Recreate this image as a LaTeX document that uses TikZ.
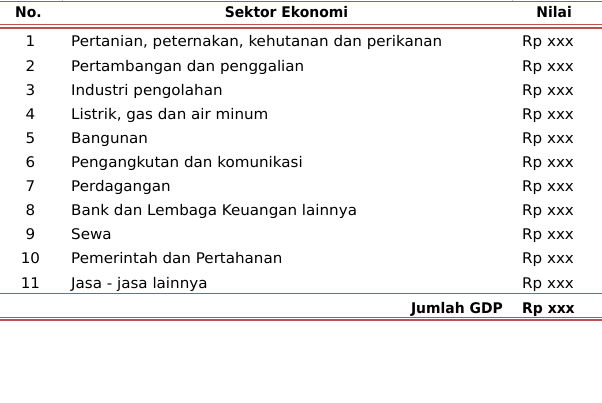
\documentclass[tikz,border=0pt]{standalone}
\usepackage{fontspec}
\setmainfont{DejaVu Sans}[UprightFeatures={FakeStretch=1.03}, BoldFeatures={FakeStretch=0.95}]
\usepackage{tikz}
\usetikzlibrary{positioning}

\definecolor{rulered}{RGB}{192,80,77}
\definecolor{gridgrey}{RGB}{200,200,200}
\newcommand{\cellfont}{\fontsize{14.67}{16}\selectfont}

\begin{document}
\begin{tikzpicture}[x=1pt, y=-1pt,
	cell/.style={font=\cellfont, inner sep=0pt, anchor=base},
	head/.style={cell, font=\cellfont\bfseries},
	thinrule/.style={rulered, line width=0.9pt},
	thickrule/.style={rulered, line width=1.8pt}]
		
		\useasboundingbox (0,0) rectangle (602,403);
		
		% Edges of the rules
		\coordinate (top L) at (0,1);      \coordinate (top R) at (602,1);
		\coordinate (headA L) at (0,24.5); \coordinate (headA R) at (602,24.5);
		\coordinate (headB L) at (0,28);   \coordinate (headB R) at (602,28);
		\coordinate (sum L) at (0,293.5);  \coordinate (sum R) at (602,293.5);
		\coordinate (botA L) at (0,317.3); \coordinate (botA R) at (602,317.3);
		\coordinate (botB L) at (0,320.2); \coordinate (botB R) at (602,320.2);
		
		% Stubs of the grid at the top
		\coordinate (gridA top) at (62,0);  \coordinate (gridA bot) at (62,2);
		\coordinate (gridB top) at (512,0); \coordinate (gridB bot) at (512,2);
		\draw[gridgrey, line width=0.8pt] (gridA top) -- (gridA bot);
		\draw[gridgrey, line width=0.8pt] (gridB top) -- (gridB bot);
		
		% Header
		\node[head, anchor=base] (hno) at (28.5,17.3) {No.};
		\node[head, anchor=base] (hsek) at (286.5,17.3) {Sektor Ekonomi};
		\node[head, anchor=base east] (hnil) at (572,17.3) {Nilai};
		
		% Rules round the header
		\draw[thinrule] (top L) -- (top R);
		\draw[thinrule, line width=0.8pt] (headA L) -- (headA R);
		\draw[thinrule, line width=1.3pt] (headB L) -- (headB R);
		
		% Rows
		\node[cell] (no1) at (30.5,47) {1};
		\node[cell, anchor=base west] (sek1) at (71,47) {Pertanian, peternakan, kehutanan dan perikanan};
		\node[cell, anchor=base west] (nil1) at (522,47) {Rp xxx};
		
		\node[cell] (no2) at (30.5,71.1) {2};
		\node[cell, anchor=base west] (sek2) at (71,71.1) {Pertambangan dan penggalian};
		\node[cell, anchor=base west] (nil2) at (522,71.1) {Rp xxx};
		
		\node[cell] (no3) at (30.5,95.2) {3};
		\node[cell, anchor=base west] (sek3) at (71,95.2) {Industri pengolahan};
		\node[cell, anchor=base west] (nil3) at (522,95.2) {Rp xxx};
		
		\node[cell] (no4) at (30.5,119.3) {4};
		\node[cell, anchor=base west] (sek4) at (71,119.3) {Listrik, gas dan air minum};
		\node[cell, anchor=base west] (nil4) at (522,119.3) {Rp xxx};
		
		\node[cell] (no5) at (30.5,143.4) {5};
		\node[cell, anchor=base west] (sek5) at (71,143.4) {Bangunan};
		\node[cell, anchor=base west] (nil5) at (522,143.4) {Rp xxx};
		
		\node[cell] (no6) at (30.5,167.5) {6};
		\node[cell, anchor=base west] (sek6) at (71,167.5) {Pengangkutan dan komunikasi};
		\node[cell, anchor=base west] (nil6) at (522,167.5) {Rp xxx};
		
		\node[cell] (no7) at (30.5,191.6) {7};
		\node[cell, anchor=base west] (sek7) at (71,191.6) {Perdagangan};
		\node[cell, anchor=base west] (nil7) at (522,191.6) {Rp xxx};
		
		\node[cell] (no8) at (30.5,215.7) {8};
		\node[cell, anchor=base west] (sek8) at (71,215.7) {Bank dan Lembaga Keuangan lainnya};
		\node[cell, anchor=base west] (nil8) at (522,215.7) {Rp xxx};
		
		\node[cell] (no9) at (30.5,239.8) {9};
		\node[cell, anchor=base west] (sek9) at (71,239.8) {Sewa};
		\node[cell, anchor=base west] (nil9) at (522,239.8) {Rp xxx};
		
		\node[cell] (no10) at (30.5,263.9) {10};
		\node[cell, anchor=base west] (sek10) at (71,263.9) {Pemerintah dan Pertahanan};
		\node[cell, anchor=base west] (nil10) at (522,263.9) {Rp xxx};
		
		\node[cell] (no11) at (30.5,288) {11};
		\node[cell, anchor=base west] (sek11) at (71,288) {Jasa - jasa lainnya};
		\node[cell, anchor=base west] (nil11) at (522,288) {Rp xxx};
		
		% Total
		\draw[thickrule] (sum L) -- (sum R);
		\node[head, anchor=base east] (jumlah) at (503,313) {Jumlah GDP};
		\node[head, anchor=base west] (total) at (522,313) {Rp xxx};
		\draw[thinrule, line width=0.8pt] (botA L) -- (botA R);
		\draw[thickrule, line width=2pt] (botB L) -- (botB R);
		
	\end{tikzpicture}
\end{document}
